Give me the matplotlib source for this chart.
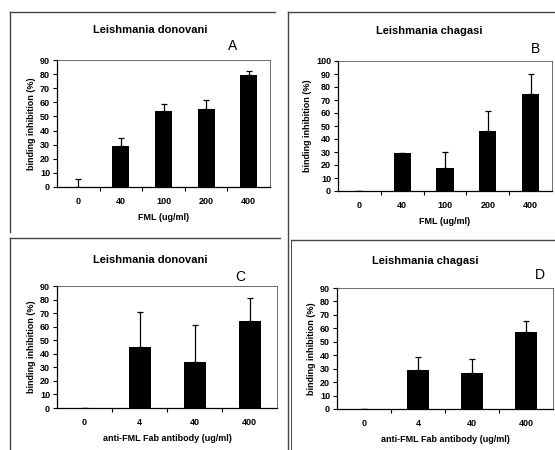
import matplotlib
matplotlib.use("Agg")
import matplotlib.pyplot as plt
from matplotlib.lines import Line2D

plt.rcParams['font.family'] = ['Liberation Sans', 'DejaVu Sans']

# Data
cats_fml = ["0", "40", "100", "200", "400"]
cats_fab = ["0", "4", "40", "400"]

a_vals = [0, 29, 54, 55, 79.5]
a_err = [6, 6, 4.5, 6.5, 3]
b_vals = [0, 29.5, 17.5, 46, 75]
b_err = [0, 0, 12.5, 15.5, 15]
c_vals = [0, 45, 34, 64.5]
c_err = [0, 26, 27, 17]
d_vals = [0, 29, 27, 57]
d_err = [0, 10, 10.5, 8.5]

W, H = 555, 450
fig = plt.figure(figsize=(W / 100, H / 100), dpi=100)

def px_axes(left, top, right, bottom):
    return fig.add_axes([left / W, (H - bottom) / H, (right - left) / W, (bottom - top) / H])

panels = [
    dict(box=(57, 60, 270, 187), cats=cats_fml, vals=a_vals, err=a_err, ymax=90,
         title="Leishmania donovani", tpos=(150, 30), letter="A", lpos=(233, 46),
         xlabel="FML (ug/ml)"),
    dict(box=(338, 61, 552, 191), cats=cats_fml, vals=b_vals, err=b_err, ymax=100,
         title="Leishmania chagasi", tpos=(429, 31), letter="B", lpos=(536, 49),
         xlabel="FML (ug/ml)"),
    dict(box=(57, 286, 277, 408), cats=cats_fab, vals=c_vals, err=c_err, ymax=90,
         title="Leishmania donovani", tpos=(150, 260), letter="C", lpos=(240, 277),
         xlabel="anti-FML Fab antibody (ug/ml)"),
    dict(box=(337, 288, 553, 409), cats=cats_fab, vals=d_vals, err=d_err, ymax=90,
         title="Leishmania chagasi", tpos=(425, 261), letter="D", lpos=(540, 275),
         xlabel="anti-FML Fab antibody (ug/ml)"),
]

for p in panels:
    ax = px_axes(*p["box"])
    n = len(p["cats"])
    x = list(range(n))
    ax.bar(x, p["vals"], width=0.4, color="black", zorder=2)
    ax.errorbar(x, p["vals"], yerr=[[0] * n, p["err"]], fmt="none", ecolor="black",
                elinewidth=0.9, capsize=2.5, capthick=0.9, zorder=3)
    ax.set_xlim(-0.5, n - 0.5)
    ax.set_ylim(0, p["ymax"])
    ax.set_yticks(range(0, p["ymax"] + 1, 10))
    ax.set_xticks(x)
    ax.set_xticklabels(p["cats"])
    ax.set_xticks([i + 0.5 for i in range(n - 1)], minor=True)
    ax.tick_params(axis="x", which="major", length=0, pad=7, labelsize=6.5)
    ax.tick_params(axis="x", which="minor", length=3, width=0.8, direction="out")
    ax.tick_params(axis="y", length=3, width=0.8, labelsize=6.5, pad=2)
    for lab in ax.get_xticklabels() + ax.get_yticklabels():
        lab.set_fontweight("bold")
    for s in ["left", "bottom"]:
        ax.spines[s].set_linewidth(0.9)
    for s in ["top", "right"]:
        ax.spines[s].set_linewidth(0.6)
        ax.spines[s].set_color("#555555")
    ax.set_ylabel("binding inhibition (%)", fontsize=6.5, fontweight="bold", labelpad=3)
    ax.set_xlabel(p["xlabel"], fontsize=6.5, fontweight="bold", labelpad=5)
    fig.text(p["tpos"][0] / W, 1 - p["tpos"][1] / H, p["title"], fontsize=8,
             fontweight="bold", ha="center", va="center")
    fig.text(p["lpos"][0] / W, 1 - p["lpos"][1] / H, p["letter"], fontsize=10,
             ha="center", va="center")

# Panel frame lines (scanned figure borders)
def fline(x0, y0, x1, y1, lw=1.0, color="#444444"):
    fig.add_artist(Line2D([x0 / W, x1 / W], [1 - y0 / H, 1 - y1 / H], lw=lw, color=color))

fline(10, 12, 275, 12)
fline(10, 12, 10, 232)
fline(288, 12, 555, 12)
fline(288, 12, 288, 450)
fline(291, 240, 291, 450, lw=0.7)
fline(10, 238, 280, 238)
fline(10, 238, 10, 450)
fline(291, 240, 555, 240)

fig.savefig("out.png", dpi=100)
